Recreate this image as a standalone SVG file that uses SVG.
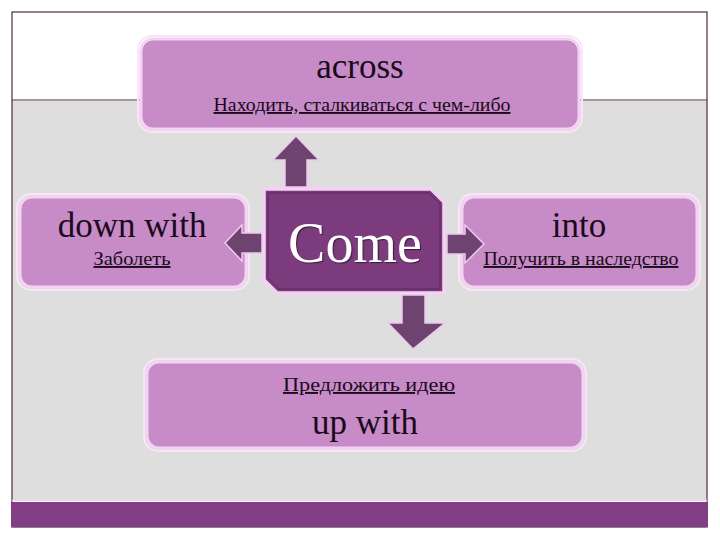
<svg xmlns="http://www.w3.org/2000/svg" width="720" height="540" viewBox="0 0 720 540">
<style>
.box{fill:#c78bc8;stroke:#f4d2f4;stroke-width:3}
.glow{fill:none;stroke:#f8e6f8;stroke-width:2}
.arr{fill:#6d4470;stroke:#f0c8f0;stroke-width:1.5}
.t{font-family:"Liberation Serif","DejaVu Serif",serif;fill:#1a0a1a;text-anchor:middle}
.big{font-size:35px}
.sub{font-size:19px;text-decoration:underline}
</style>
<rect x="0" y="0" width="720" height="540" fill="#ffffff"/>
<rect x="12" y="101" width="695" height="400" fill="#dedede"/>
<line x1="12" y1="100" x2="707" y2="100" stroke="#4a2e3a" stroke-width="1.2"/>
<rect x="12" y="12" width="695" height="515" fill="none" stroke="#4a2e3a" stroke-width="1.2"/>
<line x1="12" y1="500.5" x2="707" y2="500.5" stroke="#f4d2f4" stroke-width="1.5"/>
<rect x="11" y="502" width="697" height="25" fill="#823e84"/>
<g id="node-across">
<rect class="glow" x="138" y="36" width="444" height="96" rx="14"/>
<rect class="box" x="141" y="39" width="438" height="90" rx="12"/>
<text class="t big" x="360" y="78">across</text>
<text class="t sub" x="362" y="111" textLength="297" lengthAdjust="spacingAndGlyphs">Находить, сталкиваться с чем-либо</text>
</g>
<g id="node-down">
<rect class="glow" x="17" y="194" width="232" height="96" rx="14"/>
<rect class="box" x="20" y="197" width="226" height="90" rx="12"/>
<text class="t big" x="132" y="237">down with</text>
<text class="t sub" x="132" y="265" textLength="77" lengthAdjust="spacingAndGlyphs">Заболеть</text>
</g>
<g id="node-into">
<rect class="glow" x="459" y="194" width="241" height="96" rx="14"/>
<rect class="box" x="462" y="197" width="235" height="90" rx="12"/>
<text class="t big" x="579" y="237">into</text>
<text class="t sub" x="581" y="265" textLength="195" lengthAdjust="spacingAndGlyphs">Получить в наследство</text>
</g>
<g id="node-upwith">
<rect class="glow" x="144" y="359" width="442" height="92" rx="14"/>
<rect class="box" x="147" y="362" width="436" height="86" rx="12"/>
<text class="t sub" x="369" y="391" textLength="172" lengthAdjust="spacingAndGlyphs">Предложить идею</text>
<text class="t big" x="365" y="434">up with</text>
</g>
<g id="node-come">
<polygon points="264,189 431,189 444,202 444,293 277,293 264,280" fill="#7b3b7c" stroke="#f4d2f4" stroke-width="3.5"/>
<polygon points="268,193 429,193 440,204 440,289 279,289 268,278" fill="none" stroke="#5a2a5c" stroke-width="1"/>
<text x="355" y="262" font-family="Liberation Serif, DejaVu Serif, serif" font-size="56" fill="#ffffff" text-anchor="middle" style="text-shadow:1px 1px 1px #3a1a3a">Come</text>
</g>
<g id="connectors">
<polygon class="arr" points="285,187 285,160 273,160 296,136 319,160 307,160 307,187"/>
<polygon class="arr" points="262,233 242,233 242,225 225,243 242,261 242,253 262,253"/>
<polygon class="arr" points="447,234 465,234 465,225 484,244 465,263 465,254 447,254"/>
<polygon class="arr" points="402,295 425,295 425,323 445,323 413,349 388,323 402,323"/>
</g>
</svg>
